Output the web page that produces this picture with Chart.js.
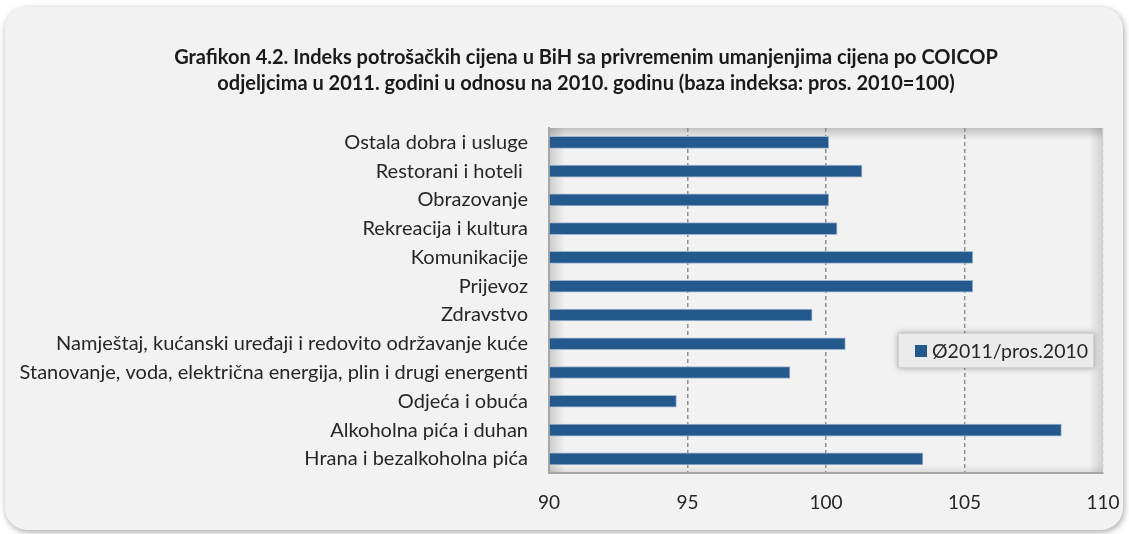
<!DOCTYPE html>
<html lang="bs">
<head>
  <meta charset="UTF-8">
  <title>Grafikon 4.2</title>
  <script src="https://cdn.jsdelivr.net/npm/chart.js"></script>
  <style>
    body { margin: 0; background: #fff; }
    #okvir { position: relative; width: 1129px; height: 534px; }
    #panel { position: absolute; left: 5px; top: 7px; width: 1118px; height: 523px;
             border-radius: 22px; background: #f2f2f2; box-shadow: 1px 2px 6px rgba(0,0,0,0.35); }
    canvas { position: absolute; left: 0; top: 0; }
  </style>
</head>
<body>

  <div id="okvir">
    <div id="panel"></div>
    <canvas id="grafik" width="1129" height="534"></canvas>
  </div>

  <script>
    // podaci (redoslijed odozgo prema dolje kao na slici)
    const odjeljci = [
      'Ostala dobra i usluge',
      'Restorani i hoteli ',
      'Obrazovanje',
      'Rekreacija i kultura',
      'Komunikacije',
      'Prijevoz',
      'Zdravstvo',
      'Namještaj, kućanski uređaji i redovito održavanje kuće',
      'Stanovanje, voda, električna energija, plin i drugi energenti',
      'Odjeća i obuća',
      'Alkoholna pića i duhan',
      'Hrana i bezalkoholna pića'
    ];
    const indeksi = [100.1, 101.3, 100.1, 100.4, 105.3, 105.3, 99.5, 100.7, 98.7, 94.6, 108.5, 103.5];
    const nazivSerije = 'Ø2011/pros.2010';
    const naslov = [
      'Grafikon 4.2. Indeks potrošačkih cijena u BiH sa privremenim umanjenjima cijena po COICOP',
      'odjeljcima u 2011. godini u odnosu na 2010. godinu (baza indeksa: pros. 2010=100)'
    ];
    const osaMin = 90, osaMax = 110, osaKorak = 5;

    const font = 'Lato';
    const boja = '#24598e';

    // pozadina plot-a sa unutrašnjom sjenkom
    const pozadina = {
      id: 'pozadina',
      beforeDraw(chart) {
        const { ctx, chartArea: a } = chart;
        ctx.save();
        ctx.fillStyle = '#f2f2f2';
        ctx.fillRect(a.left, a.top, a.width, a.height);
        let g = ctx.createLinearGradient(a.left, 0, a.left + 16, 0);
        g.addColorStop(0, 'rgba(0,0,0,0.16)'); g.addColorStop(1, 'rgba(0,0,0,0)');
        ctx.fillStyle = g; ctx.fillRect(a.left, a.top, 16, a.height);
        g = ctx.createLinearGradient(a.right, 0, a.right - 14, 0);
        g.addColorStop(0, 'rgba(0,0,0,0.14)'); g.addColorStop(1, 'rgba(0,0,0,0)');
        ctx.fillStyle = g; ctx.fillRect(a.right - 14, a.top, 14, a.height);
        g = ctx.createLinearGradient(0, a.top, 0, a.top + 12);
        g.addColorStop(0, 'rgba(0,0,0,0.2)'); g.addColorStop(1, 'rgba(0,0,0,0)');
        ctx.fillStyle = g; ctx.fillRect(a.left, a.top, a.width, 12);
        g = ctx.createLinearGradient(0, a.bottom, 0, a.bottom - 8);
        g.addColorStop(0, 'rgba(0,0,0,0.1)'); g.addColorStop(1, 'rgba(0,0,0,0)');
        ctx.fillStyle = g; ctx.fillRect(a.left, a.bottom - 8, a.width, 8);
        ctx.restore();
      }
    };

    // naslov (centriran kao u originalu, malo desno od sredine)
    const naslovPlugin = {
      id: 'naslovPlugin',
      afterDraw(chart) {
        const ctx = chart.ctx;
        ctx.save();
        ctx.font = 'bold 20px ' + font;
        ctx.fillStyle = '#1a1a1a';
        ctx.textAlign = 'center';
        ctx.textBaseline = 'middle';
        naslov.forEach((red, i) => ctx.fillText(red, 586, 58 + i * 26));
        ctx.restore();
      }
    };

    // legenda unutar plot-a
    const legenda = {
      id: 'legenda',
      afterDraw(chart) {
        const { ctx, chartArea: a } = chart;
        const ds = chart.data.datasets[0];
        const x = a.right - 205, y = a.top + 205, w = 196, h = 35;
        ctx.save();
        ctx.shadowColor = 'rgba(0,0,0,0.35)';
        ctx.shadowBlur = 6;
        ctx.fillStyle = '#ebebeb';
        ctx.fillRect(x, y, w, h);
        ctx.shadowColor = 'transparent';
        ctx.strokeStyle = '#d2d2d2';
        ctx.strokeRect(x + 0.5, y + 0.5, w - 1, h - 1);
        ctx.fillStyle = ds.backgroundColor;
        ctx.fillRect(x + 17, y + 12, 12, 12);
        ctx.fillStyle = '#262626';
        ctx.font = '19.5px ' + font;
        ctx.textBaseline = 'middle';
        ctx.fillText(ds.label, x + 34, y + h / 2 + 1);
        ctx.restore();
      }
    };

    new Chart(document.getElementById('grafik'), {
      type: 'bar',
      data: {
        labels: odjeljci,
        datasets: [{
          label: nazivSerije,
          data: indeksi,
          backgroundColor: boja,
          borderColor: '#9fb6d1',
          borderWidth: 1,
          borderSkipped: 'start',
          barThickness: 12,
          base: osaMin
        }]
      },
      options: {
        indexAxis: 'y',
        responsive: false,
        animation: false,
        layout: { padding: { left: 0, right: 26, top: 128, bottom: 20 } },
        scales: {
          x: {
            min: osaMin, max: osaMax,
            ticks: { stepSize: osaKorak, color: '#262626', padding: 0, font: { family: font, size: 19 } },
            grid: {
              drawTicks: true,
              tickLength: 18,
              tickColor: 'rgba(0,0,0,0)',
              lineWidth: 1.5,
              color: c => c.tick && c.tick.value === osaMin ? 'rgba(0,0,0,0)'
                        : (c.tick && c.tick.value === osaMax ? '#d4d4d4' : '#8f8f8f')
            },
            border: { color: '#a6a6a6', width: 2, dash: [4, 3] }
          },
          y: {
            afterFit: s => { s.width = 549; },
            ticks: { color: '#262626', padding: 0, autoSkip: false, font: { family: font, size: 20 } },
            grid: { display: true, drawOnChartArea: false, drawTicks: true, tickLength: 21,
                    color: 'rgba(0,0,0,0)', tickColor: 'rgba(0,0,0,0)' },
            border: { display: true, color: '#a6a6a6', width: 2 }
          }
        },
        plugins: {
          legend: { display: false },
          tooltip: { enabled: false },
          title: { display: false }
        }
      },
      plugins: [pozadina, naslovPlugin, legenda]
    });
  </script>

</body>
</html>
